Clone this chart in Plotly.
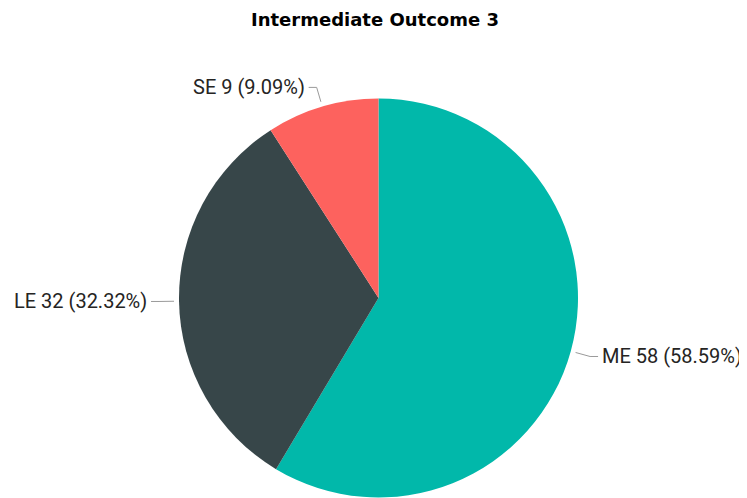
import math
import plotly.graph_objects as go

# ---- data ----
labels = ["ME", "LE", "SE"]
values = [58, 32, 9]
colors = ["#01B8AA", "#374649", "#FD625E"]
title_text = "Intermediate Outcome 3"

# ---- layout constants (screen pixels) ----
W, H = 747, 498
OFF = 8  # page body margin offset
CX, CY, R = 378.5, 298, 199.5

def px(x):
    return (x - OFF) / W

def py(y):
    return 1 - (y - OFF) / H

total = sum(values)
fig = go.Figure(go.Pie(
    labels=labels, values=values, sort=False, direction="clockwise", rotation=0,
    marker=dict(colors=colors, line=dict(width=0)),
    textinfo="none", hoverinfo="label+value+percent", showlegend=False,
    domain=dict(x=[px(CX - R), px(CX + R)],
                y=[max(0.0, py(CY + R)), min(1.0, py(CY - R))]),
))

shapes, annots = [], []
cum = 0
for lab, v in zip(labels, values):
    mid = (cum + v / 2) / total * 2 * math.pi
    cum += v
    dx, dy = math.sin(mid), -math.cos(mid)
    x1, y1 = CX + (R + 5) * dx, CY + (R + 5) * dy
    x2, y2 = CX + (R + 20) * dx, CY + (R + 20) * dy
    side = 1 if dx >= 0 else -1
    x3 = x2 + side * 8
    pct = v / total * 100
    shapes.append(dict(type="path", xref="paper", yref="paper",
                       path=f"M {px(x1)},{py(y1)} L {px(x2)},{py(y2)} L {px(x3)},{py(y2)}",
                       line=dict(color="#9a9a9a", width=1)))
    annots.append(dict(x=px(x3 + side * 2), y=py(y2), xref="paper", yref="paper",
                       text=f"{lab} {v} ({pct:.2f}%)", showarrow=False,
                       xanchor="left" if side > 0 else "right", yanchor="middle",
                       font=dict(family="Roboto", size=20, color="#252423")))

annots.append(dict(x=px(375), y=py(20), xref="paper", yref="paper", text=f"<b>{title_text}</b>",
                   showarrow=False, xanchor="center", yanchor="middle",
                   font=dict(family="DejaVu Sans", size=18, color="#000000")))

fig.update_layout(width=W, height=H, margin=dict(l=0, r=0, t=0, b=0),
                  paper_bgcolor="white", plot_bgcolor="white",
                  shapes=shapes, annotations=annots)
fig.write_html("out.html")
